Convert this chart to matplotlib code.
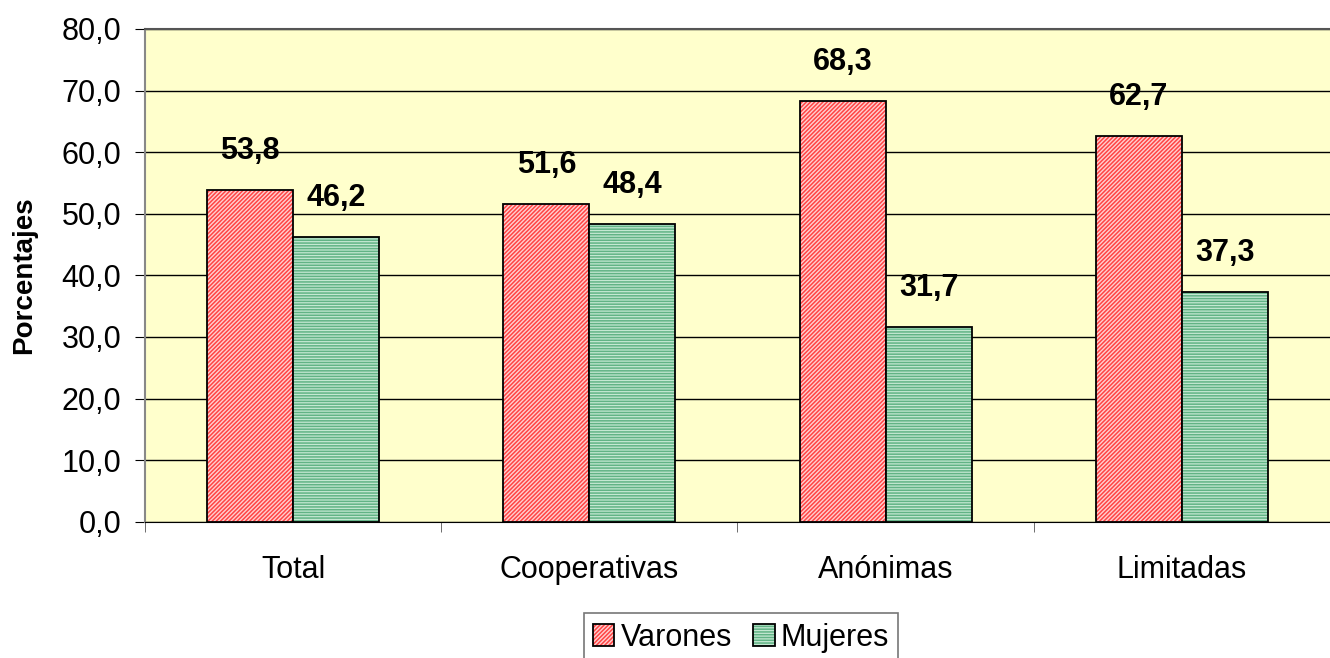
import matplotlib.pyplot as plt
import numpy as np

plt.rcParams['font.family'] = ['Liberation Sans', 'DejaVu Sans']
plt.rcParams['hatch.linewidth'] = 1.1

categorias = ["Total", "Cooperativas", "Anónimas", "Limitadas"]
varones = [53.8, 51.6, 68.3, 62.7]
mujeres = [46.2, 48.4, 31.7, 37.3]

fig = plt.figure(figsize=(13.3, 6.58), dpi=100)
ax = fig.add_axes([0.109, 0.207, 0.891, 0.749])
ax.set_facecolor('#FFFFCC')

x = np.arange(len(categorias))
w = 0.29

b1 = ax.bar(x - w / 2, varones, w, facecolor='#FFD0D0', edgecolor='black',
            linewidth=1.3, hatch='////////', zorder=3, label='Varones')
b2 = ax.bar(x + w / 2, mujeres, w, facecolor='#C4E8D2', edgecolor='black',
            linewidth=1.3, hatch='------', zorder=3, label='Mujeres')
for bar in b1:
    bar._hatch_color = (1.0, 0.27, 0.27, 1.0)
for bar in b2:
    bar._hatch_color = (0.38, 0.70, 0.52, 1.0)

for xi, v in zip(x - w / 2, varones):
    ax.annotate(f"{v:.1f}".replace('.', ','), (xi, v), xytext=(0, 28),
                textcoords='offset points', ha='center', va='center',
                fontsize=22, fontweight='bold')
for xi, v in zip(x + w / 2, mujeres):
    ax.annotate(f"{v:.1f}".replace('.', ','), (xi, v), xytext=(0, 28),
                textcoords='offset points', ha='center', va='center',
                fontsize=22, fontweight='bold')

ax.set_ylim(0, 80)
ax.set_xlim(-0.5, len(categorias) - 0.5)
ax.set_yticks(np.arange(0, 81, 10))
ax.set_yticklabels([f"{t:.1f}".replace('.', ',') for t in np.arange(0, 81, 10)],
                   fontsize=22)
ax.yaxis.grid(True, color='black', linewidth=1.0, zorder=0)
ax.set_axisbelow(True)

ax.set_xticks(x)
ax.set_xticklabels(categorias, fontsize=22)
ax.tick_params(axis='x', which='major', length=0, pad=24)
ax.set_xticks(np.arange(-0.5, len(categorias), 1), minor=True)
ax.tick_params(axis='x', which='minor', length=7, color='#555555')
ax.tick_params(axis='y', length=7, pad=10)

ax.spines['left'].set_color('#888888')
ax.spines['left'].set_linewidth(1.5)
ax.spines['top'].set_color('#555555')
ax.spines['top'].set_linewidth(1.5)
ax.spines['right'].set_visible(False)
ax.spines['bottom'].set_color('black')

ax.set_ylabel("Porcentajes", fontsize=20, fontweight='bold')
ax.yaxis.set_label_coords(-0.091, 0.5)

leg = ax.legend(loc='upper center', bbox_to_anchor=(0.503, -0.155), ncol=2,
                fontsize=22, frameon=True, fancybox=False, edgecolor='#555555',
                handlelength=0.7, handleheight=0.7, handletextpad=0.2,
                columnspacing=0.7, borderpad=0.3)
leg.get_frame().set_linewidth(1.2)

fig.savefig("out.png", dpi=100)
